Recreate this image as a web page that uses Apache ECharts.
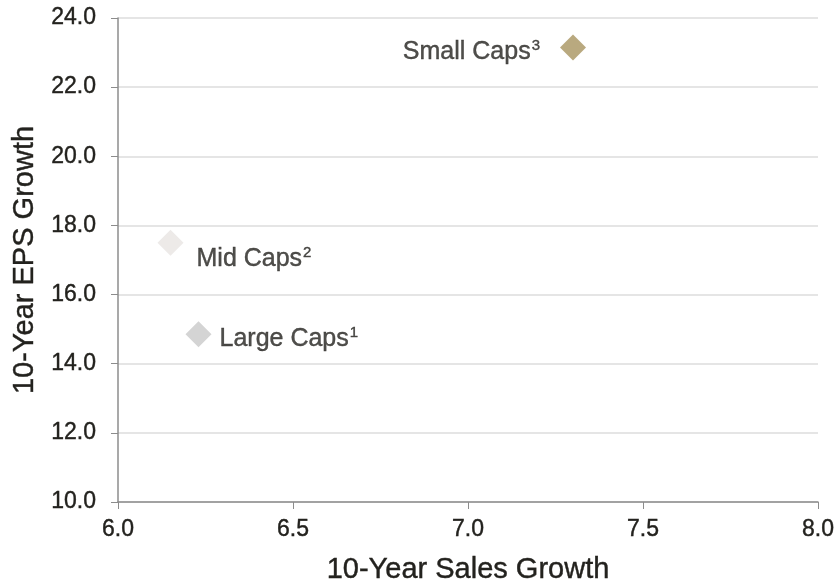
<!DOCTYPE html>
<html>
<head>
<meta charset="utf-8">
<script src="https://cdn.jsdelivr.net/npm/echarts@6/dist/echarts.min.js"></script>
<style>
  html, body { margin: 0; padding: 0; background: #fff; }
  #chart { width: 834px; height: 584px; }
</style>
</head>
<body>
<div id="chart"></div>
<script>
// Market-cap segments: 10-year sales growth vs 10-year EPS growth
const names = ['Large Caps', 'Mid Caps', 'Small Caps'];
const notes = ['1', '2', '3'];
const salesGrowth = [6.23, 6.15, 7.30];
const epsGrowth = [14.85, 17.5, 23.15];
const colors = ['#c9c9c9', '#e9e5e2', '#a8935f'];

const labelSetup = [
  { position: 'right', distance: 8, offset: [0, 2] },
  { position: 'right', distance: 13, offset: [0, 14] },
  { position: 'left', distance: 18, offset: [-2, 2] }
];

const textColor = '#23221e';
const font = 'Liberation Sans, Arial, sans-serif';
// a hairline outline in the text colour gives the glyphs a slightly heavier weight
const ink = { color: textColor, fontFamily: font, textBorderColor: textColor, textBorderWidth: 0.4 };

const seriesData = names.map((n, i) => ({
  value: [salesGrowth[i], epsGrowth[i]],
  name: n,
  itemStyle: { color: colors[i] },
  label: {
    show: true,
    position: labelSetup[i].position,
    distance: labelSetup[i].distance,
    offset: labelSetup[i].offset,
    formatter: '{n|' + n + '}{s|' + notes[i] + '}',
    rich: {
      n: Object.assign({ fontSize: 25, lineHeight: 30, verticalAlign: 'bottom' }, ink),
      s: Object.assign({ fontSize: 15, lineHeight: 30, verticalAlign: 'top', padding: [4, 0, 0, 1] }, ink)
    }
  }
}));

const chart = echarts.init(document.getElementById('chart'));
chart.setOption({
  animation: false,
  backgroundColor: '#ffffff',
  grid: { left: 118, right: 16, top: 18, bottom: 82, containLabel: false, outerBoundsMode: 'none' },
  xAxis: {
    type: 'value',
    min: 6.0, max: 8.0, interval: 0.5,
    name: '10-Year Sales Growth',
    nameLocation: 'middle',
    nameGap: 53,
    nameTextStyle: Object.assign({ fontSize: 29 }, ink),
    axisLine: { show: true, lineStyle: { color: '#8c8c8c', width: 1.5 } },
    axisTick: { show: true, inside: false, length: 7, lineStyle: { color: '#8c8c8c' } },
    axisLabel: Object.assign({ fontSize: 23, margin: 16, formatter: v => v.toFixed(1) }, ink),
    splitLine: { show: false }
  },
  yAxis: {
    type: 'value',
    min: 10, max: 24, interval: 2,
    name: '10-Year EPS Growth',
    nameLocation: 'middle',
    nameGap: 68,
    nameTextStyle: Object.assign({ fontSize: 29 }, ink),
    axisLine: { show: true, lineStyle: { color: '#8c8c8c', width: 1.5 } },
    axisTick: { show: true, length: 7, lineStyle: { color: '#8c8c8c' } },
    axisLabel: Object.assign({ fontSize: 23, margin: 22, formatter: v => v.toFixed(1) }, ink),
    splitLine: { show: true, lineStyle: { color: '#dcdcdc', width: 1.5 } }
  },
  series: [{
    type: 'scatter',
    symbol: 'diamond',
    symbolSize: 26,
    data: seriesData
  }]
});
</script>
</body>
</html>
